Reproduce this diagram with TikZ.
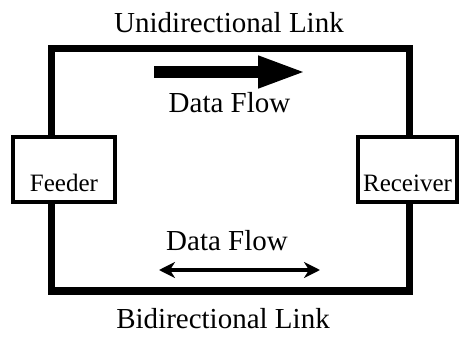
\documentclass[tikz,border=0pt]{standalone}
\usepackage{fontspec}
\setmainfont{Liberation Serif}
\newfontfamily\tnrfont{Liberation Serif}
\usetikzlibrary{arrows.meta,backgrounds}
\begin{document}
\begin{tikzpicture}[x=1pt,y=-1pt,
  frame/.style={line width=7.5pt,line join=miter,line cap=butt},
  endbox/.style={draw,line width=4pt,fill=white,inner sep=0pt,
    minimum width=102pt,minimum height=65pt,text height=44pt,text depth=0pt,
    font=\tnrfont\fontsize{25}{25}\selectfont},
  biglabel/.style={anchor=base,inner sep=0pt,font=\tnrfont\fontsize{29}{29}\selectfont}]
\useasboundingbox (0,0) rectangle (459,340);
% coordinates for frame
\coordinate (tl) at (51.5,48.5);
\coordinate (tr) at (409.5,48.5);
\coordinate (bl) at (51.5,291);
\coordinate (br) at (409.5,291);
\node[endbox] (feeder) at (64,169.5) {Feeder};
\node[endbox,minimum width=99pt] (receiver) at (407.5,169.5) {Receiver};
\begin{scope}[on background layer]
\draw[frame] (tl |- feeder.north) -- (tl) -- (tr) -- (tr |- receiver.north);
\draw[frame] (bl |- feeder.south) -- (bl) -- (br) -- (br |- receiver.south);
\end{scope}
% labels
\node[biglabel] (uni) at (229,32) {Unidirectional Link};
\node[biglabel] (bi) at (223,328) {Bidirectional Link};
\node[biglabel] (df1) at (229.5,112) {Data Flow};
\node[biglabel] (df2) at (227,250) {Data Flow};
% arrows
\coordinate (a1s) at (154,72);
\coordinate (a1e) at (307,72);
\draw[line width=12.5pt,-{Triangle[length=49pt,width=29pt]}] (a1s) -- (a1e);
\coordinate (a2s) at (159,270);
\coordinate (a2e) at (320,270);
\draw[line width=4.5pt,{Stealth[length=16pt,width=16pt,inset=5pt]}-{Stealth[length=16pt,width=16pt,inset=5pt]}] (a2s) -- (a2e);
\end{tikzpicture}
\end{document}
